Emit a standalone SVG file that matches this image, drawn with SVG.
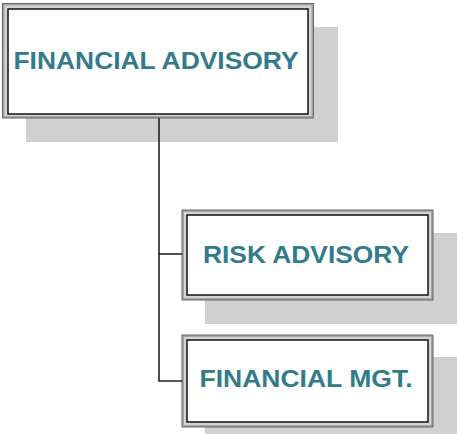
<svg xmlns="http://www.w3.org/2000/svg" width="457" height="434" viewBox="0 0 457 434">
<style>
.shadow{fill:#d0d0d0}
.outer{fill:#a4a4a4;stroke:#666;stroke-width:1}
.mid{fill:#d4d4d4}
.inner{fill:#fff;stroke:#111;stroke-width:1.5}
.lbl{font-family:"Liberation Sans",Arial,sans-serif;font-weight:bold;font-size:23px;fill:#327b8a;text-anchor:middle}
.conn{fill:none;stroke:#222;stroke-width:1.6}
</style>
<rect width="457" height="434" fill="#fff"/>
<g id="node-financial-advisory">
<rect class="shadow" x="26" y="27" width="312" height="115"/>
<rect class="outer" x="2.5" y="3.5" width="311" height="114.5"/>
<rect class="mid" x="4.5" y="5.5" width="307" height="110.5"/>
<rect class="inner" x="8" y="9" width="300" height="105"/>
<text class="lbl" x="156" y="68.5" textLength="285" lengthAdjust="spacingAndGlyphs">FINANCIAL ADVISORY</text>
</g>
<g id="node-risk-advisory">
<rect class="shadow" x="205" y="233" width="252" height="91"/>
<rect class="outer" x="182" y="210" width="251" height="90"/>
<rect class="mid" x="184" y="212" width="247" height="86"/>
<rect class="inner" x="187" y="215" width="241" height="80"/>
<text class="lbl" x="306" y="262.5" textLength="206" lengthAdjust="spacingAndGlyphs">RISK ADVISORY</text>
</g>
<g id="node-financial-mgt">
<rect class="shadow" x="205" y="357" width="252" height="92"/>
<rect class="outer" x="182" y="335" width="251" height="92"/>
<rect class="mid" x="184" y="337" width="247" height="88"/>
<rect class="inner" x="187" y="340" width="241" height="82"/>
<text class="lbl" x="306" y="387" textLength="213" lengthAdjust="spacingAndGlyphs">FINANCIAL MGT.</text>
</g>
<g id="connectors">
<path class="conn" d="M159 118 V381 H182"/>
<path class="conn" d="M159 254 H182"/>
</g>
</svg>
